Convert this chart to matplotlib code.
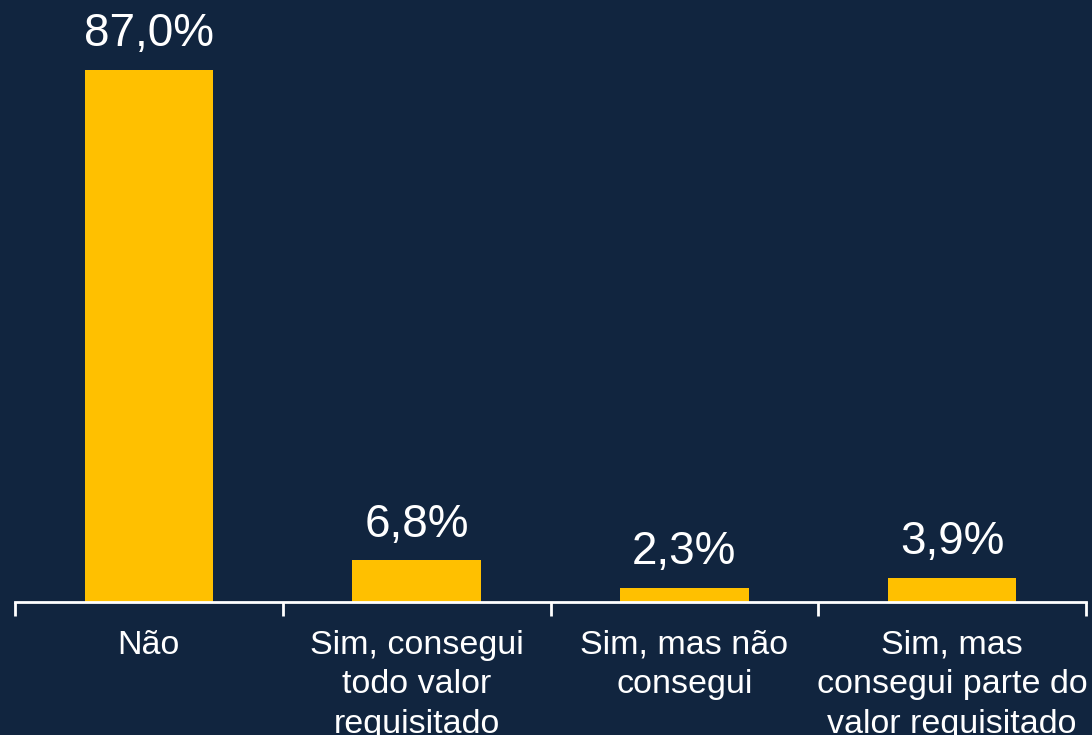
import matplotlib.pyplot as plt
import numpy as np

categories = ["Não",
              "Sim, consegui\ntodo valor\nrequisitado",
              "Sim, mas não\nconsegui",
              "Sim, mas\nconsegui parte do\nvalor requisitado"]
values = [87.0, 6.8, 2.3, 3.9]
value_labels = ["87,0%", "6,8%", "2,3%", "3,9%"]

bg = "#11253F"
bar_color = "#FFC000"

plt.rcParams['font.family'] = ['Liberation Sans', 'DejaVu Sans']

fig = plt.figure(figsize=(10.92, 7.35), dpi=100, facecolor=bg)
ax = fig.add_axes([15 / 1092, 133 / 735, 1071 / 1092, 602 / 735])
ax.set_facecolor(bg)

x = np.arange(len(categories))
ax.bar(x, values, width=0.48, color=bar_color)

for xi, v, lab in zip(x, values, value_labels):
    ax.annotate(lab, (xi, v), xytext=(0, 10), textcoords="offset points",
                ha="center", va="bottom", color="white", fontsize=33)

ax.set_xlim(-0.5, len(categories) - 0.5)
ax.set_ylim(0, 98.4)

for s in ["top", "left", "right"]:
    ax.spines[s].set_visible(False)
ax.spines["bottom"].set_color("white")
ax.spines["bottom"].set_linewidth(2)

ax.set_yticks([])
ax.set_xticks(x)
ax.set_xticklabels(categories, color="white", fontsize=24.5, linespacing=1.35)
ax.tick_params(axis="x", which="major", length=0, pad=20)
ax.set_xticks(np.arange(len(categories) + 1) - 0.5, minor=True)
ax.tick_params(axis="x", which="minor", length=10, width=2, color="white")

fig.savefig("out.png", dpi=100, facecolor=bg)
